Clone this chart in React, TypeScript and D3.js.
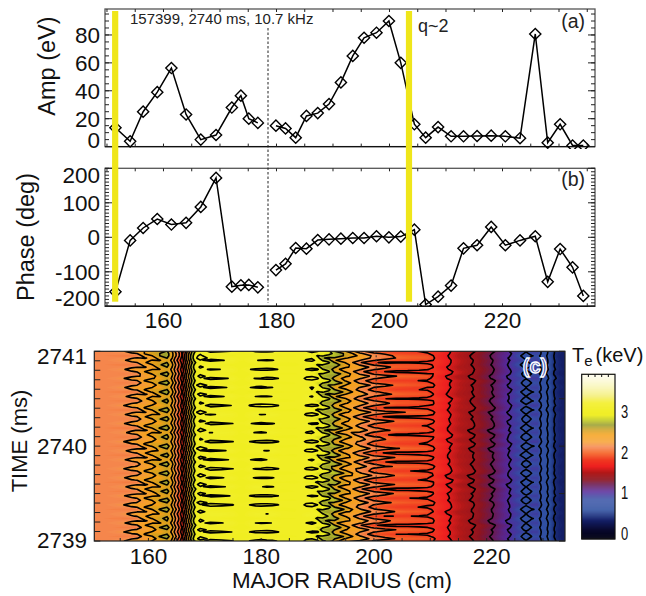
import React from "react";
import * as d3 from "d3";

const FONT = "'Liberation Sans', Arial, Helvetica, sans-serif";

// Panels (a) and (b): radius channels, mode amplitude and phase
const radius = [151.5,154.1,156.4,158.9,161.4,164,166.6,169.3,172.1,173.7,175.1,176.7,179.9,181.6,183.4,185.3,187.3,189.3,191.4,193.5,195.5,197.7,199.9,202,204.4,206.4,208.6,210.9,213.1,215.5,218,220.5,223.1,225.8,228,230.2,232.4,234.3];
const amplitude = [13.5,3.8,25,39,56.3,23,5,8.3,28,36.5,20,17,15,13,6.4,22,24,30.5,46,65,78,81.6,90,60,16,6.4,14,7.4,7.4,7.6,7.8,7.4,6,80.7,2.8,16,0.8,0.8];
const phase = [-158,-9,27,53,37,42,88,172,-143,-139,-138,-145,-95,-77,-31,-33,-8,-6,-4,-2,-2,3,0,2,22,-195,-172,-140,-32,-23,30,-23,-9,3,-129,-34,-87,-170];
const gapAfter = 176.7;
const qBars = [151.45, 203.45];
const dottedR = 178.5;
const ampTicks = [0,20,40,60,80];
const phaseTicks = [-200,-100,0,100,200];
const radiusLabels = [160,180,200,220];

// Panel (c): Te profile and oscillation
const rCols = [150.4,152,154,155.5,157,158,159.4,160.7,162,163.3,163.8,164.2,164.7,165.3,165.7,166,166.3,166.5,166.8,167.2,167.6,168.1,168.6,169.2,171,173,175,176,177,178,179,180,181,182,183,184,186,187,188,189,190,190.9,192,193,195,197.5,200,202,204,206,208,209.5,210.5,211.3,213.4,215,217.5,219,221,222.5,224,225.2,226,227,228,229,229.6,230,230.8,231.5,232,233,233.9];
const teCols = [2.1,2.11,2.12,2.13,2.17,2.2,2.3,2.4,2.5,2.6,2.5,2.4,2.2,2,1.85,1.72,1.88,2,2.2,2.4,2.6,2.8,2.93,2.985,2.975,2.965,2.95,2.92,2.92,2.95,2.965,2.97,2.97,2.965,2.95,2.93,2.93,2.94,2.965,2.975,2.9,2.8,2.72,2.6,2.4,2.2,2,1.93,1.88,1.865,1.85,1.83,1.78,1.72,1.6,1.5,1.4,1.3,1.2,1.1,1,0.92,0.86,0.74,0.86,0.88,0.8,0.7,0.6,0.5,0.4,0.33,0.3];
const ampCols = [0,0.01,0.03,0.06,0.12,0.13,0.13,0.13,0.12,0.1,0.07,0.07,0.07,0.07,0.06,0.05,0.05,0.06,0.07,0.07,0.07,0.07,0.07,0.05,0.05,0.05,0.05,0.01,0.01,0.05,0.05,0.05,0.05,0.05,0.05,0.01,0.01,0.01,0.05,0.06,0.13,0.15,0.15,0.15,0.15,0.15,0.15,0.14,0.12,0.1,0.1,0.1,0.05,0.03,0.02,0.02,0.02,0.02,0.02,0.02,0.02,0.04,0.06,0.09,0.08,0.05,0.03,0.02,0.02,0.02,0.015,0.01,0.01];
const noiseCols = [0,0,0,0,0.01,0.01,0.01,0.01,0.01,0.01,0.01,0.01,0.01,0.01,0.01,0.01,0.01,0.01,0.01,0.01,0.01,0.01,0.01,0.01,0.008,0.008,0.008,0.005,0.005,0.01,0.01,0.01,0.01,0.01,0.01,0.005,0.005,0.005,0.02,0.02,0.03,0.03,0.03,0.03,0.03,0.03,0.03,0.03,0.03,0.03,0.03,0.03,0.03,0.025,0.025,0.025,0.025,0.025,0.025,0.025,0.025,0.01,0.01,0.01,0.01,0.01,0.012,0.012,0.012,0.012,0.012,0.012,0.012];
const lagCols = [0,0,0,0,0,0,1,1,2,2,2,2,2,2,2,2,3,3,3,3,3,3,3,3,0,0,0,0,0,0,0,0,0,0,0,0,0,0,0,0,0,1,1,2,2,3,3,3,3,3,3,3,3,1,1,1,1,1,1,1,1,0,0,0,0,0,0,0,0,0,0,0,0];
const wobble = [0.9,0.1,-0.8,-0.05,1,0.1,-0.7,0,0.8,-0.1,-1,0.05,0.6,-0.05,-0.9,0.1,1,0,-0.6,0.05,0.9,-0.1,-0.8,0,0.7,-0.05,-1,0.1,0.85,0,-0.75,0.05,1,0.1,-0.55,-0.05,0.8,0,-0.95,0.05,0.7,-0.1,-0.85,0.1,1,0,-0.7,-0.05,0.6,0.05,-1,0,0.9,0.1,-0.6,-0.05,0.75,0,-0.9,0.05,1,0.1,-0.8,-0.05,0.65,0,-1,0.1,0.85,0.05,-0.7,-0.05,0.95,0,-0.6,0.05,0.8,-0.1,-0.9,0,0.7,0.05,-1,0,0.9];
const jitter = [0.4,-0.6,0.9,0.1,-0.8,0.5,-0.2,0.7,-0.9,0.3,0.8,-0.4,-0.7,0.6,0.2,-1,0.9,-0.3,0.1,0.7,-0.6,-0.1,1,-0.5,0.3,-0.8,0.6,0.4,-0.9,0.2,0.8,-0.7,-0.2,0.5,-0.4,0.9,-1,0.3,0.7,-0.5,0.1,-0.8,0.6];
const contourLevels = [0.4,0.6,0.8,1,1.2,1.4,1.6,1.8,2,2.2,2.4,2.6,2.8,3];
const timeLabels = [2739,2740,2741];
const dottedHeatR = 200.4;
const barLabels = [0,1,2,3];

// Colour table
const cmapValues = [-0.14,0.08,0.33,0.57,0.82,0.92,1.02,1.2,1.31,1.48,1.64,1.8,1.97,2.13,2.25,2.42,2.54,2.66,2.79,2.9,3.2,3.36,3.6,3.85];
const cmapColors = ["#000010","#0a0a30","#14206a","#2f50a0","#3450a4","#3e3c9e","#55289a","#6b1a50","#8c1420","#b01818","#ee2020","#f03820","#f56428","#f58a50","#f5a030","#f5a018","#d0a020","#9aa030","#c8d024","#f0ee20","#f4f040","#f5f080","#f8f6b8","#fdfce8"];
const cmap = d3.scaleLinear<string>().domain(cmapValues).range(cmapColors).clamp(true);

const xTop = d3.scaleLinear().domain([149.65, 236.37]).range([105, 595]);
const yAmp = d3.scaleLinear().domain([0, 98.6]).range([146.6, 9]);
const yPhase = d3.scaleLinear().domain([-200, 200]).range([306.3, 168.3]);
const HL = 94.3, HR = 565, HT = 351.3, HB = 541;
const xHeat = d3.scaleLinear().domain([150.4, 233.9]).range([HL, HR]);
const yTime = d3.scaleLinear().domain([2739, 2741]).range([HB, HT]);
const yBar = d3.scaleLinear().domain([0, 3]).range([533.5, 411.5]);

const idxToR = d3.scaleLinear().domain(rCols.map((_, i) => i)).range(rCols);
const rowToT = d3.scaleLinear().domain([0, wobble.length - 1]).range([2739, 2741]);
const n = rCols.length, m = wobble.length;
const grid: number[] = [];
for (let j = 0; j < m; j++) {
  for (let i = 0; i < n; i++) {
    const w = wobble[(j + lagCols[i]) % m];
    const q = jitter[(Math.floor(j / 2) + Math.floor(i / 4) * 5) % jitter.length];
    grid.push(teCols[i] + ampCols[i] * w + noiseCols[i] * q);
  }
}

const toXY = (p: number[]) => {
  const ci = p[0] - 0.5;
  const r = ci < 0 ? rCols[0] + ci * 2 : ci > n - 1 ? rCols[n - 1] + (ci - n + 1) * 2 : idxToR(ci);
  return xHeat(r).toFixed(2) + "," + yTime(rowToT(p[1] - 0.5)).toFixed(2);
};
const contourGen = d3.contours().size([n, m]);
const contourPath = (level: number) =>
  contourGen.contour(grid, level).coordinates
    .map((poly: number[][][]) => poly.map((ring) => "M" + ring.map(toXY).join("L") + "Z").join(""))
    .join("");
const fillLevels = d3.range(0.2, 3.3, 0.025);
const fillPaths = fillLevels.map((t) => ({ t, d: contourPath(t) }));
const linePaths = contourLevels.map((t) => ({ t, d: contourPath(t) }));
const barValues = d3.range(-0.14, 3.92, 0.025);

function segments(vals: number[], y: d3.ScaleLinear<number, number>) {
  const ln = d3.line<number>().x((i) => xTop(radius[i])).y((i) => y(vals[i]));
  const idx = radius.map((_, i) => i);
  const first = idx.filter((i) => radius[i] <= gapAfter);
  const second = idx.filter((i) => radius[i] > gapAfter);
  return [ln(first) as string, ln(second) as string];
}
function Diamonds({ vals, y }: { vals: number[]; y: d3.ScaleLinear<number, number> }) {
  const s = 5.6;
  return (
    <g fill="none" stroke="#000" strokeWidth={1.4}>
      {vals.map((v, i) => {
        const cx = xTop(radius[i]), cy = y(v);
        return <path key={i} d={`M${cx - s},${cy}L${cx},${cy - s}L${cx + s},${cy}L${cx},${cy + s}Z`} />;
      })}
    </g>
  );
}
function Frame({ y, major, minor }: { y: d3.ScaleLinear<number, number>; major: number[]; minor: number[] }) {
  const [b, t] = y.range();
  const l = 105, r = 595;
  const xt = d3.range(150, 236, 5);
  return (
    <g stroke="#222" strokeWidth={1}>
      <rect x={l} y={t} width={r - l} height={b - t} fill="none" stroke="#555" strokeWidth={1.3} />
      <line x1={l} x2={r} y1={b} y2={b} stroke="#111" strokeWidth={1.4} />
      {xt.map((v) => (
        <g key={v}>
          <line x1={xTop(v)} x2={xTop(v)} y1={b} y2={b - 3} />
          <line x1={xTop(v)} x2={xTop(v)} y1={t} y2={t + 3} />
        </g>
      ))}
      {minor.map((v) => (
        <g key={v}>
          <line x1={l} x2={l + 4} y1={y(v)} y2={y(v)} />
          <line x1={r} x2={r - 4} y1={y(v)} y2={y(v)} />
        </g>
      ))}
      {major.map((v) => (
        <g key={v}>
          <line x1={l} x2={l + 7} y1={y(v)} y2={y(v)} />
          <line x1={r} x2={r - 7} y1={y(v)} y2={y(v)} />
        </g>
      ))}
    </g>
  );
}

export default function App() {
  const [a1, a2] = segments(amplitude, yAmp);
  const [p1, p2] = segments(phase, yPhase);
  const big = { fontFamily: FONT, fontSize: 22.5, fill: "#111" } as const;
  return (
    <svg width={646} height={596} viewBox="0 0 646 596" style={{ position: "absolute", left: 0, top: 0, background: "#fff" }}>
      <defs>
        <clipPath id="clipA"><rect x={105} y={9} width={490} height={140} /></clipPath>
        <clipPath id="clipB"><rect x={105} y={168} width={490} height={138.3} /></clipPath>
        <clipPath id="clipC"><rect x={HL} y={HT} width={HR - HL} height={HB - HT} /></clipPath>
      </defs>

      <Frame y={yAmp} major={ampTicks} minor={d3.range(5, 98, 5)} />
      <Frame y={yPhase} major={phaseTicks} minor={d3.range(-200, 201, 10)} />

      <g clipPath="url(#clipA)">
        <path d={a1} fill="none" stroke="#000" strokeWidth={1.5} />
        <path d={a2} fill="none" stroke="#000" strokeWidth={1.5} />
        <Diamonds vals={amplitude} y={yAmp} />
      </g>
      <g clipPath="url(#clipB)">
        <path d={p1} fill="none" stroke="#000" strokeWidth={1.5} />
        <path d={p2} fill="none" stroke="#000" strokeWidth={1.5} />
        <Diamonds vals={phase} y={yPhase} />
      </g>

      <line x1={xTop(dottedR)} x2={xTop(dottedR)} y1={28} y2={303} stroke="#222" strokeWidth={1} strokeDasharray="2.5 2" />
      {qBars.map((q) => (
        <rect key={q} x={xTop(q) - 3.1} y={11} width={6.2} height={290.7} fill="#efe61a" />
      ))}

      <text x={130} y={24} fontFamily={FONT} fontSize={15} fill="#222">157399, 2740 ms, 10.7 kHz</text>
      <text x={418} y={32} fontFamily={FONT} fontSize={18} fill="#222">q~2</text>
      <text x={585} y={28} textAnchor="end" fontFamily={FONT} fontSize={19.5} fill="#222">(a)</text>
      <text x={585} y={186} textAnchor="end" fontFamily={FONT} fontSize={19.5} fill="#222">(b)</text>

      {ampTicks.map((v) => (
        <text key={v} x={100} y={Math.min(yAmp(v), 140)} dy="0.36em" textAnchor="end" {...big}>{v}</text>
      ))}
      {phaseTicks.map((v) => (
        <text key={v} x={100} y={Math.min(Math.max(yPhase(v), 175), 298)} dy="0.36em" textAnchor="end" {...big}>{v}</text>
      ))}
      {radiusLabels.map((v) => (
        <text key={v} x={xTop(v)} y={327.5} textAnchor="middle" {...big}>{v}</text>
      ))}
      <text transform="translate(55,66) rotate(-90)" textAnchor="middle" {...big} fontSize={23.5}>Amp (eV)</text>
      <text transform="translate(34,237) rotate(-90)" textAnchor="middle" {...big} fontSize={23.5}>Phase (deg)</text>

      <g clipPath="url(#clipC)">
        <rect x={HL} y={HT} width={HR - HL} height={HB - HT} fill={cmap(0.2)} />
        {fillPaths.map((f) => (
          <path key={f.t} d={f.d} fill={cmap(f.t + 0.0125)} fillRule="evenodd" />
        ))}
        {linePaths.map((f) => (
          <path key={f.t} d={f.d} fill="none" stroke="#000" strokeWidth={1.6} strokeLinejoin="round" />
        ))}
        <line x1={xHeat(dottedHeatR)} x2={xHeat(dottedHeatR)} y1={HT} y2={HB} stroke="#333" strokeWidth={1} strokeDasharray="2 2" />
      </g>
      <rect x={HL} y={HT} width={HR - HL} height={HB - HT} fill="none" stroke="#222" strokeWidth={1.2} />
      <g stroke="#222" strokeWidth={1}>
        {d3.range(2739, 2741.01, 0.1).map((t) => (
          <line key={t} x1={HL} x2={HL + 6} y1={yTime(t)} y2={yTime(t)} />
        ))}
        {d3.range(2739, 2741.01, 0.5).map((t) => (
          <line key={t} x1={HR} x2={HR - 6} y1={yTime(t)} y2={yTime(t)} />
        ))}
        {d3.range(155, 234, 5).map((v) => (
          <line key={v} x1={xHeat(v)} x2={xHeat(v)} y1={HB} y2={HB - 3} />
        ))}
      </g>
      <text x={535} y={373} textAnchor="middle" fontFamily={FONT} fontSize={20} fontWeight={700} fill="#4a5ab0" stroke="#fff" strokeWidth={1.3}>(c)</text>

      {timeLabels.map((v) => (
        <text key={v} x={87} y={Math.min(Math.max(yTime(v), 356), 540)} dy="0.36em" textAnchor="end" {...big}>{v}</text>
      ))}
      {radiusLabels.map((v) => (
        <text key={v} x={xHeat(v) + (v === 220 ? 5 : 0)} y={564} textAnchor="middle" {...big}>{v}</text>
      ))}
      <text x={342} y={588} textAnchor="middle" {...big} fontSize={22.4}>MAJOR RADIUS (cm)</text>
      <text transform="translate(27,441) rotate(-90)" textAnchor="middle" {...big} fontSize={22}>TIME (ms)</text>

      {barValues.map((v) => (
        <rect key={v} x={581.7} y={yBar(v + 0.0125) - 0.6} width={33.3} height={1.2} fill={cmap(v)} />
      ))}
      <rect x={581.7} y={374.3} width={33.3} height={164.7} fill="none" stroke="#111" strokeWidth={1.2} />
      <g stroke="#111" strokeWidth={1}>
        {[0.2, 0.4, 0.6, 0.8].map((f) => (
          <line key={f} x1={581.7 + 33.3 * f} x2={581.7 + 33.3 * f} y1={374.3} y2={377} />
        ))}
      </g>
      {barLabels.map((v) => (
        <text key={v} transform={`translate(621,${yBar(v) + 6.5}) scale(0.72,1)`} fontFamily={FONT} fontSize={18} fill="#111">{v}</text>
      ))}
      <text x={572} y={362} {...big} fontSize={20}>T<tspan fontSize={15} dy={4}>e</tspan><tspan dy={-4} dx={3}>(keV)</tspan></text>
    </svg>
  );
}
